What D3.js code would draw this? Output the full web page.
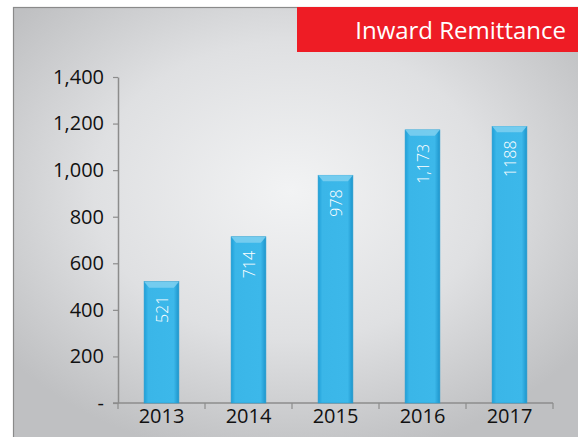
<!DOCTYPE html>
<html><head><meta charset="utf-8">
<script src="https://cdn.jsdelivr.net/npm/d3@7"></script>
<style>html,body{margin:0;padding:0;background:#fff;}</style>
</head><body>
<script>
const categories = ["2013","2014","2015","2016","2017"];
const values = [521, 714, 978, 1173, 1188];
const valueLabels = ["521","714","978","1,173","1188"];
const yTicks = [0,200,400,600,800,1000,1200,1400];
const yTickLabels = ["-","200","400","600","800","1,000","1,200","1,400"];
const title = "Inward Remittance";

const W = 578, H = 437;
const svg = d3.select("body").append("svg").attr("width", W).attr("height", H);
const defs = svg.append("defs");
const rg = defs.append("radialGradient").attr("id","bg")
  .attr("cx","0.48").attr("cy","0.42").attr("r","0.62");
rg.append("stop").attr("offset","0").attr("stop-color","#f2f3f4");
rg.append("stop").attr("offset","0.55").attr("stop-color","#dfe0e2");
rg.append("stop").attr("offset","1").attr("stop-color","#bfc0c2");

const bg = defs.append("linearGradient").attr("id","bar").attr("x1","0").attr("x2","1").attr("y1","0").attr("y2","0");
bg.append("stop").attr("offset","0").attr("stop-color","#1f9fd8");
bg.append("stop").attr("offset","0.12").attr("stop-color","#3ab6e8");
bg.append("stop").attr("offset","0.85").attr("stop-color","#3cb8ea");
bg.append("stop").attr("offset","1").attr("stop-color","#1d95cc");

// panel
svg.append("rect").attr("x",13.5).attr("y",7.5).attr("width",W).attr("height",H)
  .attr("fill","url(#bg)").attr("stroke","#8a8a8a").attr("stroke-width",1.2);

// title box
svg.append("rect").attr("x",297).attr("y",7).attr("width",W-297).attr("height",45).attr("fill","#ee1c25");
svg.append("text").attr("x",W-12).attr("y",39).attr("text-anchor","end")
  .attr("fill","#fff").attr("font-family","Open Sans, sans-serif").attr("font-size",24).text(title);

const x0 = 118, x1 = 553, yTop = 77, yBot = 403;
const x = d3.scaleBand().domain(categories).range([x0, x1]).paddingInner(0.6).paddingOuter(0.3);
const y = d3.scaleLinear().domain([0,1400]).range([yBot, yTop]);

// y axis
const ya = svg.append("g").attr("transform",`translate(${x0},0)`)
  .call(d3.axisLeft(y).tickValues(yTicks).tickFormat((d,i)=>yTickLabels[i]).tickSizeInner(5).tickSizeOuter(0).tickPadding(9));
ya.select(".domain").attr("stroke","#8c8c8c").attr("stroke-width",1.5);
ya.selectAll(".tick line").attr("stroke","#8c8c8c").attr("stroke-width",1.2);
ya.selectAll("text").attr("font-family","Open Sans, sans-serif").attr("font-size",20).attr("fill","#111");

// x axis
const xa = svg.append("g").attr("transform",`translate(0,${yBot})`)
  .call(d3.axisBottom(x).tickSize(0).tickPadding(6));
xa.select(".domain").remove();
xa.selectAll("text").attr("font-family","Open Sans, sans-serif").attr("font-size",20).attr("fill","#111");
svg.append("line").attr("x1",x0-5).attr("x2",x1).attr("y1",yBot).attr("y2",yBot).attr("stroke","#8c8c8c").attr("stroke-width",1.5);
const bounds = d3.range(categories.length+1).map(i => x0 + i*(x1-x0)/categories.length);
svg.selectAll(".xt").data(bounds).enter().append("line")
  .attr("x1",d=>d).attr("x2",d=>d).attr("y1",yBot).attr("y2",yBot+6)
  .attr("stroke","#8c8c8c").attr("stroke-width",1.2);

// bars
const g = svg.append("g");
const bars = g.selectAll(".bar").data(categories).enter().append("g");
bars.append("rect").attr("x",d=>x(d)).attr("y",(d,i)=>y(values[i]))
  .attr("width",x.bandwidth()).attr("height",(d,i)=>yBot-y(values[i]))
  .attr("fill","url(#bar)").attr("stroke","#2a9fd0").attr("stroke-width",0.6);
bars.append("path").attr("d",(d,i)=>{
  const bx = x(d), by = y(values[i]), bw = x.bandwidth();
  return `M${bx},${by}L${bx+bw},${by}L${bx+bw-5},${by+6}L${bx+5},${by+6}Z`;
}).attr("fill","#7fd0f0").attr("opacity",0.85);
bars.append("text")
  .attr("transform",(d,i)=>`translate(${x(d)+x.bandwidth()/2+6},${y(values[i])+14}) rotate(-90)`)
  .attr("text-anchor","end").attr("fill","#fff")
  .attr("font-family","Open Sans, sans-serif").attr("font-size",16).attr("font-weight",300)
  .text((d,i)=>valueLabels[i]);
</script>
</body></html>
